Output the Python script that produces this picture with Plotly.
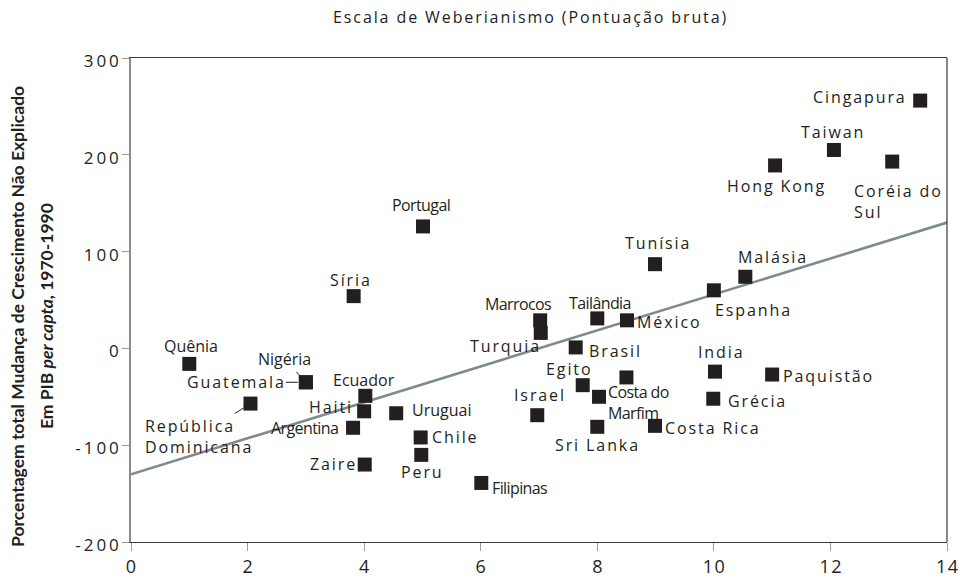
import plotly.graph_objects as go

# ---------------- data ----------------
countries = ["Quênia", "Nigéria", "Guatemala", "República<br>Dominicana", "Ecuador", "Haiti",
             "Argentina", "Uruguai", "Chile", "Peru", "Zaire", "Filipinas", "Portugal", "Síria",
             "Marrocos", "Turquia", "Tailândia", "México", "Brasil", "Egito", "Costa do<br>Marfim",
             "", "Israel", "Sri Lanka", "Costa Rica", "Tunísia", "Espanha", "Malásia", "India",
             "Grécia", "Paquistão", "Hong Kong", "Taiwan", "Cingapura", "Coréia do<br>Sul"]
weber = [1.0, 3.0, 3.0, 2.05, 4.02, 4.0, 3.81, 4.55, 4.97, 4.98, 4.01, 6.01, 5.01, 3.82,
         7.02, 7.03, 8.0, 8.51, 7.63, 7.75, 8.03, 8.5, 6.97, 8.0, 8.99, 8.99, 10.0, 10.54,
         10.02, 9.99, 11.0, 11.05, 12.06, 13.54, 13.06]
growth = [-16, -35, -35, -57, -49, -65, -82, -67, -92, -110, -120, -139, 126, 54,
          29, 16, 31, 29, 1, -38, -50, -30, -69, -81, -80, 87, 60, 74,
          -24, -52, -27, 189, 205, 256, 193]

fit_x = [0, 14]
fit_y = [-130, 130]

x_ticks = [0, 2, 4, 6, 8, 10, 12, 14]
y_ticks = [-200, -100, 0, 100, 200, 300]

title_text = "Escala de Weberianismo (Pontuação bruta)"
ytitle_1 = "Porcentagem total Mudança de Crescimento Não Explicado"
ytitle_2 = "Em PIB <i>per capta</i>, 1970-1990"

# ---------------- label placement (screen px: dx right, dy down) ----------------
# kind: n = normal, s = spaced, c = condensed
placement = {
    "Quênia": (2, -18, "center", "n", False),
    "Nigéria": (-21, -23, "center", "n", True),
    "Guatemala": (-70, 0, "center", "s", True),
    "República<br>Dominicana": (-52, 33, "center", "s", True),
    "Ecuador": (-1, -16, "center", "n", False),
    "Haiti": (-34, -4, "center", "s", False),
    "Argentina": (-48, 0, "center", "c", False),
    "Uruguai": (45, -3, "center", "n", False),
    "Chile": (34, 0, "center", "s", False),
    "Peru": (0, 17, "center", "s", False),
    "Zaire": (-32, -1, "center", "s", False),
    "Filipinas": (39, 5, "center", "c", False),
    "Portugal": (-2, -21, "center", "c", False),
    "Síria": (-4, -16, "center", "s", False),
    "Marrocos": (-22, -16, "center", "c", False),
    "Turquia": (-36, 13, "center", "s", False),
    "Tailândia": (3, -15, "center", "c", False),
    "México": (8, 2, "left", "s", False),
    "Brasil": (11, 4, "left", "s", False),
    "Egito": (-14, -16, "center", "s", False),
    "Costa do<br>Marfim": (7, 6, "left", "c", False),
    "Israel": (2, -20, "center", "s", False),
    "Sri Lanka": (-1, 18, "center", "s", False),
    "Costa Rica": (8, 2, "left", "s", False),
    "Tunísia": (2, -21, "center", "s", False),
    "Espanha": (-1, 20, "left", "s", False),
    "Malásia": (27, -20, "center", "s", False),
    "India": (5, -20, "center", "s", False),
    "Grécia": (13, 2, "left", "s", False),
    "Paquistão": (9, 1, "left", "s", False),
    "Hong Kong": (1, 21, "center", "s", False),
    "Taiwan": (-2, -18, "center", "s", False),
    "Cingapura": (-13, -4, "right", "s", False),
    "Coréia do<br>Sul": (-40, 40, "left", "s", False),
}

INK = "#231f20"
FONT = "Open Sans, DejaVu Sans"
spacing = {"n": 0.0, "s": 1.9, "c": -0.6}


def styled(text, ls):
    """Letter-spacing on every character but the last of each line."""
    if ls == 0:
        return text
    out = []
    for p in text.split("<br>"):
        if len(p) > 1:
            out.append('<span style="letter-spacing:%.1fpx">%s</span>%s' % (ls, p[:-1], p[-1]))
        else:
            out.append(p)
    return "<br>".join(out)


fig = go.Figure()

fig.add_trace(go.Scatter(
    x=fit_x, y=fit_y, mode="lines",
    line=dict(color="#7d8b90", width=2.6),
    hoverinfo="skip", showlegend=False))

fig.add_trace(go.Scatter(
    x=weber, y=growth, mode="markers",
    marker=dict(symbol="square", size=14, color=INK, line=dict(width=0)),
    text=countries, hoverinfo="text", showlegend=False, cliponaxis=False))

annotations = []
for name, xv, yv in zip(countries, weber, growth):
    if not name:
        continue
    dx, dy, anchor, kind, arrow = placement[name]
    f = dict(family=FONT, size=16, color=INK)
    txt = styled(name, spacing[kind])
    if arrow:
        annotations.append(dict(
            x=xv, y=yv, xref="x", yref="y", text=txt, font=f,
            showarrow=True, arrowhead=0, arrowwidth=1, arrowcolor=INK,
            ax=dx, ay=dy, standoff=8, align="left"))
    else:
        annotations.append(dict(
            x=xv, y=yv, xref="x", yref="y", text=txt, font=f,
            showarrow=False, xanchor=anchor, yanchor="middle",
            xshift=dx, yshift=-dy, align="left"))

annotations.append(dict(
    x=0.489, y=1.0847, xref="paper", yref="paper", text=styled(title_text, 1.9),
    showarrow=False, xanchor="center", yanchor="middle",
    font=dict(family=FONT, size=16, color=INK)))
annotations.append(dict(
    x=-0.1385, y=0.467, xref="paper", yref="paper", text=ytitle_1, textangle=-90,
    showarrow=False, xanchor="center", yanchor="middle",
    font=dict(family="Lato, Open Sans", size=17.5, color=INK, weight="bold")))
annotations.append(dict(
    x=-0.1029, y=0.467, xref="paper", yref="paper", text=ytitle_2, textangle=-90,
    showarrow=False, xanchor="center", yanchor="middle",
    font=dict(family="Lato, Open Sans", size=17.5, color=INK, weight="bold")))

fig.update_layout(
    width=966, height=578,
    margin=dict(l=131, r=19, t=58, b=36, autoexpand=False),
    paper_bgcolor="white", plot_bgcolor="white",
    annotations=annotations,
    shapes=[dict(type="line", xref="paper", yref="paper", x0=1, x1=1, y0=0, y1=1,
                 line=dict(color="#3a3a3a", width=1.2))],
)
fig.update_xaxes(
    range=[0, 14], tickvals=x_ticks, ticktext=[styled(str(v), 1.5) for v in x_ticks],
    showgrid=False, zeroline=False, showline=True, linecolor="#3a3a3a", linewidth=1.2,
    mirror=True, ticks="outside", ticklen=8, tickcolor="#9a9a9a", tickwidth=1,
    automargin=False, ticklabeloverflow="allow",
    tickfont=dict(family=FONT, size=18, color=INK))
fig.update_yaxes(
    range=[-200, 300], tickvals=y_ticks, ticktext=[styled(str(v), 3) for v in y_ticks],
    showgrid=False, zeroline=False, showline=True, linecolor="#8c8c8c", linewidth=1.5,
    ticks="outside", ticklen=7, tickcolor="#9a9a9a", tickwidth=1, ticklabelshift=3,
    automargin=False, ticklabeloverflow="allow",
    tickfont=dict(family=FONT, size=17, color=INK))

# remove the default page margin so the figure fills the 966x578 window exactly
fig.write_html(
    "out.html",
    config={"displayModeBar": False},
    post_script="document.body.style.margin='0px';"
                "document.documentElement.style.overflow='hidden';")
